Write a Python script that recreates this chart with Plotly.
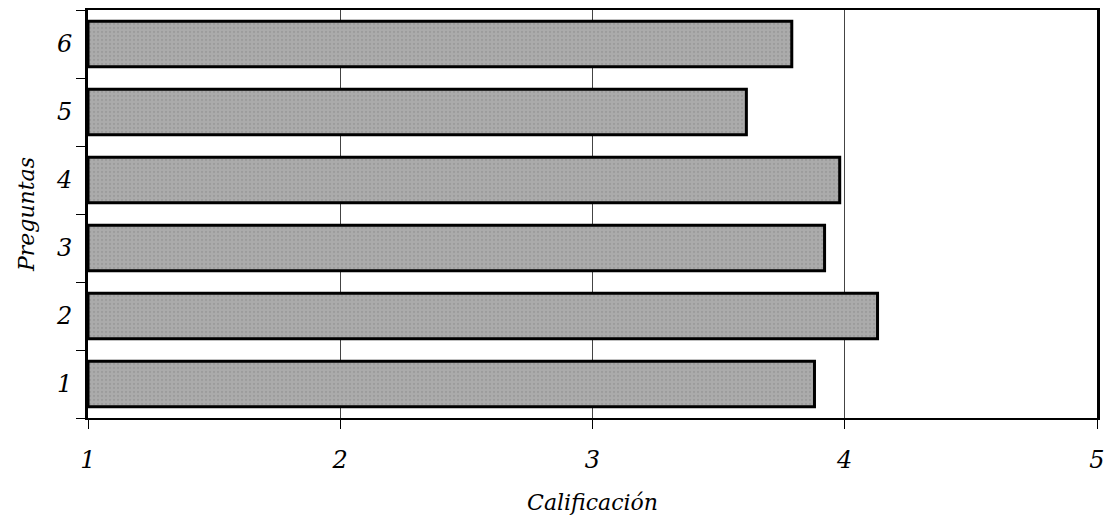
import plotly.graph_objects as go

preguntas = ["1", "2", "3", "4", "5", "6"]
calificacion = [3.88, 4.13, 3.92, 3.98, 3.61, 3.79]
x_ticks = [1, 2, 3, 4, 5]

FONT = "DejaVu Serif"

fig = go.Figure(
    go.Bar(
        y=preguntas,
        x=[v - 1 for v in calificacion],
        base=1,
        orientation="h",
        marker=dict(
            color="#ababab",
            line=dict(color="black", width=3),
            pattern=dict(shape=".", fgcolor="#8c8c8c", size=4, solidity=0.25),
        ),
        hoverinfo="skip",
    )
)

fig.update_layout(
    width=1113,
    height=519,
    margin=dict(l=88, r=13, t=8, b=97),
    plot_bgcolor="white",
    paper_bgcolor="white",
    bargap=0.33,
    showlegend=False,
    font=dict(family=FONT, color="black"),
)

fig.update_xaxes(
    range=[1, 5],
    tickvals=x_ticks,
    ticktext=[str(t) for t in x_ticks],
    showgrid=True,
    gridcolor="#444444",
    gridwidth=1,
    showline=True,
    linecolor="black",
    linewidth=2,
    mirror=True,
    ticks="outside",
    ticklen=9,
    tickcolor="black",
    tickwidth=1,
    ticklabelstandoff=10,
    tickfont=dict(family=FONT, size=24, style="italic"),
    title=dict(text="Calificación", font=dict(family=FONT, size=22, style="italic"), standoff=22),
    zeroline=False,
)

fig.update_yaxes(
    type="category",
    categoryorder="array",
    categoryarray=preguntas,
    tickson="boundaries",
    showgrid=False,
    showline=True,
    linecolor="black",
    linewidth=3,
    mirror=True,
    ticks="outside",
    ticklen=9,
    tickcolor="black",
    tickwidth=1,
    tickfont=dict(family=FONT, size=24, style="italic"),
    title=dict(text="Preguntas", font=dict(family=FONT, size=22, style="italic"), standoff=16),
    ticklabelstandoff=8,
)

fig.write_html("out.html")
